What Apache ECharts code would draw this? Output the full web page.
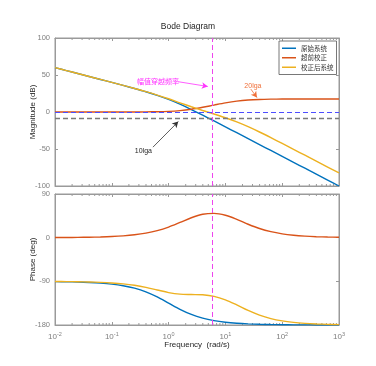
<!DOCTYPE html>
<html><head><meta charset="utf-8">
<script src="https://cdn.jsdelivr.net/npm/echarts@6/dist/echarts.min.js"></script>
<style>html,body{margin:0;padding:0;background:#fff}#c{width:376px;height:366px}</style>
</head><body><div id="c"></div>
<script>
// Frequency samples (rad/s)
var freq = [0.01,0.01585,0.02512,0.03981,0.0631,0.1,0.1585,0.2512,0.3981,0.631,1,1.585,2.512,3.981,6.31,10,15.85,25.12,39.81,63.1,100,158.5,251.2,398.1,631,1000];
// Magnitude (dB)
var magOrig = [60.00,56.00,52.00,48.00,43.98,39.96,35.89,31.73,27.36,22.54,16.99,10.54,3.36,-4.27,-12.11,-20.04,-28.02,-36.01,-44.00,-52.00,-60.00,-68.00,-76.00,-84.00,-92.00,-100.00];
var magLead = [0.00,0.00,0.00,0.00,0.00,0.01,0.02,0.06,0.15,0.37,0.87,1.91,3.74,6.35,9.37,12.29,14.64,16.17,16.98,17.35,17.50,17.57,17.60,17.61,17.62,17.62];
var magComp = [60.00,56.00,52.00,47.99,43.99,39.97,35.92,31.79,27.51,22.91,17.86,12.45,7.10,2.08,-2.74,-7.75,-13.38,-19.84,-27.02,-34.65,-42.50,-50.43,-58.40,-66.39,-74.38,-82.38];
// Phase (deg)
var phOrig = [-90.57,-90.91,-91.44,-92.28,-93.61,-95.71,-99.01,-104.10,-111.70,-122.25,-135.00,-147.75,-158.30,-165.90,-170.99,-174.29,-176.39,-177.72,-178.56,-179.09,-179.43,-179.64,-179.77,-179.86,-179.91,-179.94];
var phLead = [0.24,0.37,0.59,0.94,1.49,2.36,3.74,5.90,9.28,14.43,21.83,31.32,41.11,48.16,50.02,46.10,37.70,27.70,18.87,12.32,7.88,5.00,3.16,2.00,1.26,0.80];
var phComp = [-90.33,-90.54,-90.85,-91.34,-92.12,-93.35,-95.27,-98.20,-102.42,-107.82,-113.17,-116.43,-117.19,-117.74,-120.97,-128.19,-138.69,-150.02,-159.69,-166.77,-171.55,-174.64,-176.61,-177.86,-178.65,-179.14];
var seriesNames = ['原始系统','超前校正','校正后系统'];
var crossFreq = 5.8;      // gain crossover frequency (rad/s)
var zeroDb = 0;
var tenLgA = -8.8;        // -10lg a (dB)
// annotation anchor points [freq, dB]
var noteCross = {text:'幅值穿越频率', at:[0.65,41.5], from:[1.46,41], to:[4.9,34.5]};
var note20 = {text:'20lga', at:[30.5,35.5], from:[28,31], to:[36,19.5]};
var note10 = {text:'10lga', at:[0.36,-52.5], from:[0.53,-47.5], to:[1.48,-13]};
// minor tick positions of the log frequency axis
var decades = [0.01,0.1,1,10,100];
var minorMult = [2,3,4,5,6,7,8,9];

var minorFreqs = [];
decades.forEach(function(d){ minorMult.forEach(function(m){ minorFreqs.push([+(d*m).toPrecision(3)]); }); });

function pairs(ys){ return freq.map(function(f,i){return [f, ys[i]];}); }
var C = ['#0072BD','#D95319','#EDB120'];
var axisGray = '#9a9a9a', labGray = '#7f7f7f';

function logLabel(v){
  var e = Math.round(Math.log10(v));
  return '{b|10}{s|' + e + '}';
}
var rich = { b:{fontSize:8,color:labGray,fontFamily:'Liberation Sans'}, s:{fontSize:5.5,color:labGray,verticalAlign:'top',padding:[0,0,6,0],fontFamily:'Liberation Sans'} };

function xAx(grid, pos, showLabel){
  return {type:'log', logBase:10, gridIndex:grid, position:pos, min:0.01, max:1000,
    axisLine:{show:true,onZero:false,lineStyle:{color:axisGray,width:1}},
    axisTick:{show:true,inside:true,length:3,lineStyle:{color:axisGray}},
    minorTick:{show:false},
    splitLine:{show:false},
    axisLabel:{show:showLabel, formatter:logLabel, rich:rich, margin:6},
    name: (grid===1 && pos==='bottom') ? 'Frequency  (rad/s)' : '',
    nameLocation:'middle', nameGap:16, nameMoveOverlap:false,
    nameTextStyle:{color:'#262626',fontSize:8,fontFamily:'Liberation Sans'}};
}
function yAx(grid, pos, mn, mx, iv, name, showLabel){
  return {type:'value', gridIndex:grid, position:pos, min:mn, max:mx, interval:iv,
    axisLine:{show:true,lineStyle:{color:axisGray,width:1}},
    axisTick:{show:true,inside:true,length:3,lineStyle:{color:axisGray}},
    splitLine:{show:false},
    axisLabel:{show:showLabel,color:labGray,fontSize:7.5,margin:5,fontFamily:'Liberation Sans'},
    name:name, nameLocation:'middle', nameGap:18, nameMoveOverlap:false,
    nameTextStyle:{color:'#262626',fontSize:8,fontFamily:'Liberation Sans'}};
}
function lineSeries(name, data, xi, yi, color){
  return {name:name, type:'line', xAxisIndex:xi, yAxisIndex:yi, data:pairs(data), smooth:0.3,
    symbol:'none', lineStyle:{color:color,width:1.4}, itemStyle:{color:color}, z:3};
}
function arrowLine(n, color){
  return [{coord:n.from},{coord:n.to, lineStyle:{color:color,width:0.8,type:'solid'}}];
}
function textPt(n, color, font){
  return {coord:n.at, symbol:'circle', symbolSize:0,
    label:{show:true, position:'inside', formatter:n.text, color:color, fontSize:7, fontFamily:font}};
}
function minorTickSeries(xi, yi, ymin, ymax){
  return {type:'custom', xAxisIndex:xi, yAxisIndex:yi, data:minorFreqs, silent:true, z:2,
    renderItem:function(params, api){
      var b = api.coord([api.value(0), ymin]), t = api.coord([api.value(0), ymax]);
      var st = {stroke:axisGray, lineWidth:1};
      return {type:'group', children:[
        {type:'line', shape:{x1:b[0],y1:b[1],x2:b[0],y2:b[1]-2}, style:st},
        {type:'line', shape:{x1:t[0],y1:t[1],x2:t[0],y2:t[1]+2}, style:st}
      ]};
    }};
}

var chart = echarts.init(document.getElementById('c'), null, {renderer:'canvas'});
chart.setOption({
  animation:false,
  backgroundColor:'#ffffff',
  title:{text:'Bode Diagram', left:'center', top:22, textStyle:{fontSize:8.5,fontWeight:'normal',color:'#262626',fontFamily:'Liberation Sans'}, padding:0},
  legend:{data:seriesNames.map(function(n){return {name:n, icon:'rect'};}), orient:'vertical', left:279, top:41, itemWidth:14, itemHeight:1.5, itemGap:3,
    padding:[4,3,4,3], borderColor:'#555', borderWidth:0.8, backgroundColor:'#fff',
    textStyle:{fontSize:6.5,color:'#333',fontFamily:'Noto Sans CJK SC'}},
  grid:[{left:55, right:37, top:38, height:148, show:true, borderColor:axisGray, borderWidth:1},
        {left:55, right:37, top:194, height:131, show:true, borderColor:axisGray, borderWidth:1}],
  xAxis:[xAx(0,'bottom',false), xAx(0,'top',false), xAx(1,'bottom',true), xAx(1,'top',false)],
  yAxis:[yAx(0,'left',-100,100,50,'Magnitude (dB)',true), yAx(0,'right',-100,100,50,'',false),
         yAx(1,'left',-180,90,90,'Phase (deg)',true), yAx(1,'right',-180,90,90,'',false)],
  series:[
    lineSeries(seriesNames[0], magOrig, 0, 0, C[0]),
    lineSeries(seriesNames[1], magLead, 0, 0, C[1]),
    lineSeries(seriesNames[2], magComp, 0, 0, C[2]),
    lineSeries(seriesNames[0], phOrig, 2, 2, C[0]),
    lineSeries(seriesNames[1], phLead, 2, 2, C[1]),
    lineSeries(seriesNames[2], phComp, 2, 2, C[2]),
    minorTickSeries(0, 0, -100, 100),
    minorTickSeries(2, 2, -180, 90),
    {type:'line', xAxisIndex:0, yAxisIndex:0, data:[], z:5, silent:true,
      markLine:{silent:true, symbol:['none','none'], label:{show:false}, animation:false,
        data:[
          {yAxis:zeroDb, lineStyle:{color:'#4d4dff',type:[5,3],width:1.1}},
          {yAxis:tenLgA, lineStyle:{color:'#7a7a7a',type:[5,3],width:1.3}},
          {xAxis:crossFreq, lineStyle:{color:'#ee44ee',type:[5,3],width:1}}
        ]}},
    {type:'line', xAxisIndex:0, yAxisIndex:0, data:[], z:6, silent:true,
      markLine:{silent:true, symbol:['none','arrow'], symbolSize:[5,6], label:{show:false}, animation:false,
        data:[arrowLine(noteCross,'#ff33ff'), arrowLine(note20,'#f0703a'), arrowLine(note10,'#333333')]},
      markPoint:{silent:true, animation:false,
        data:[textPt(noteCross,'#ff33ff','Noto Sans CJK SC'), textPt(note20,'#f0703a','Liberation Sans'), textPt(note10,'#262626','Liberation Sans')]}},
    {type:'line', xAxisIndex:2, yAxisIndex:2, data:[], z:5, silent:true,
      markLine:{silent:true, symbol:['none','none'], label:{show:false}, animation:false,
        data:[{xAxis:crossFreq, lineStyle:{color:'#ee44ee',type:[5,3],width:1}}]}}
  ]
});
</script></body></html>
